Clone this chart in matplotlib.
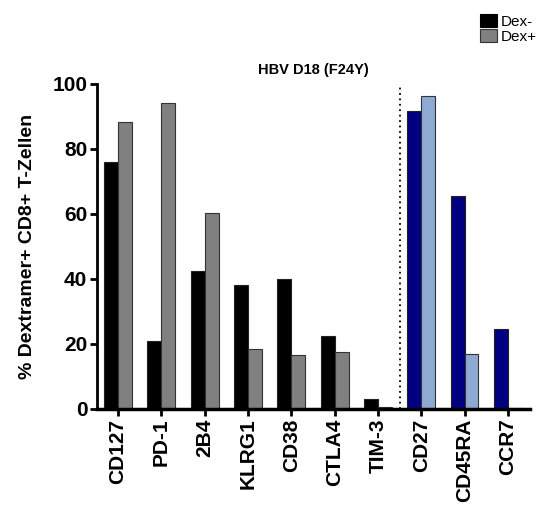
import matplotlib
matplotlib.use("Agg")
import matplotlib.pyplot as plt
import numpy as np

plt.rcParams["font.family"] = ["Liberation Sans", "DejaVu Sans"]

markers = ["CD127", "PD-1", "2B4", "KLRG1", "CD38", "CTLA4", "TIM-3", "CD27", "CD45RA", "CCR7"]
dex_neg = [76, 21, 42.5, 38, 40, 22.5, 3, 91.5, 65.5, 24.5]
dex_pos = [88.3, 94.2, 60.3, 18.4, 16.6, 17.5, 0.5, 96.4, 17, 0.4]
split = 7  # first markers grey, the rest blue

neg_colors = ["black"] * split + ["#000080"] * (len(markers) - split)
pos_colors = ["#808080"] * split + ["#8eaad2"] * (len(markers) - split)

fig = plt.figure(figsize=(5.51, 5.08), dpi=100)
ax = fig.add_axes([0.176, 0.195, 0.786, 0.64])

x = np.arange(len(markers))
w = 0.32
ax.bar(x - w / 2, dex_neg, w, color=neg_colors, edgecolor="#222222", linewidth=0.8, label="Dex-")
ax.bar(x + w / 2, dex_pos, w, color=pos_colors, edgecolor="#333333", linewidth=0.8, label="Dex+")

ax.axvline(split - 0.5, color="black", linestyle=(0, (1, 2)), linewidth=1.3)

ax.set_xlim(-0.485, len(markers) - 0.49)
ax.set_ylim(0, 100)
ax.set_yticks([0, 20, 40, 60, 80, 100])
ax.set_xticks(x)
ax.set_xticklabels(markers, rotation=90, fontsize=15, fontweight="bold")
for lab in ax.get_yticklabels():
    lab.set_fontsize(15)
    lab.set_fontweight("bold")
ax.set_ylabel("% Dextramer+ CD8+ T-Zellen", fontsize=14, fontweight="bold", labelpad=12)
ax.set_title("HBV D18 (F24Y)", fontsize=10.5, fontweight="bold", pad=7)

ax.spines["top"].set_visible(False)
ax.spines["right"].set_visible(False)
ax.spines["left"].set_linewidth(2)
ax.spines["bottom"].set_linewidth(2.5)
ax.tick_params(axis="both", width=2, length=5, pad=2)

leg = fig.legend(loc="upper right", bbox_to_anchor=(1.0, 1.0), frameon=False,
                 fontsize=11, handlelength=1.1, handleheight=1.0,
                 handletextpad=0.3, labelspacing=0.0, borderaxespad=0.5)
leg.legend_handles[0].set_color("black")
leg.legend_handles[1].set_color("#808080")
leg.legend_handles[1].set_edgecolor("#333333")

fig.savefig("out.png", dpi=100)
